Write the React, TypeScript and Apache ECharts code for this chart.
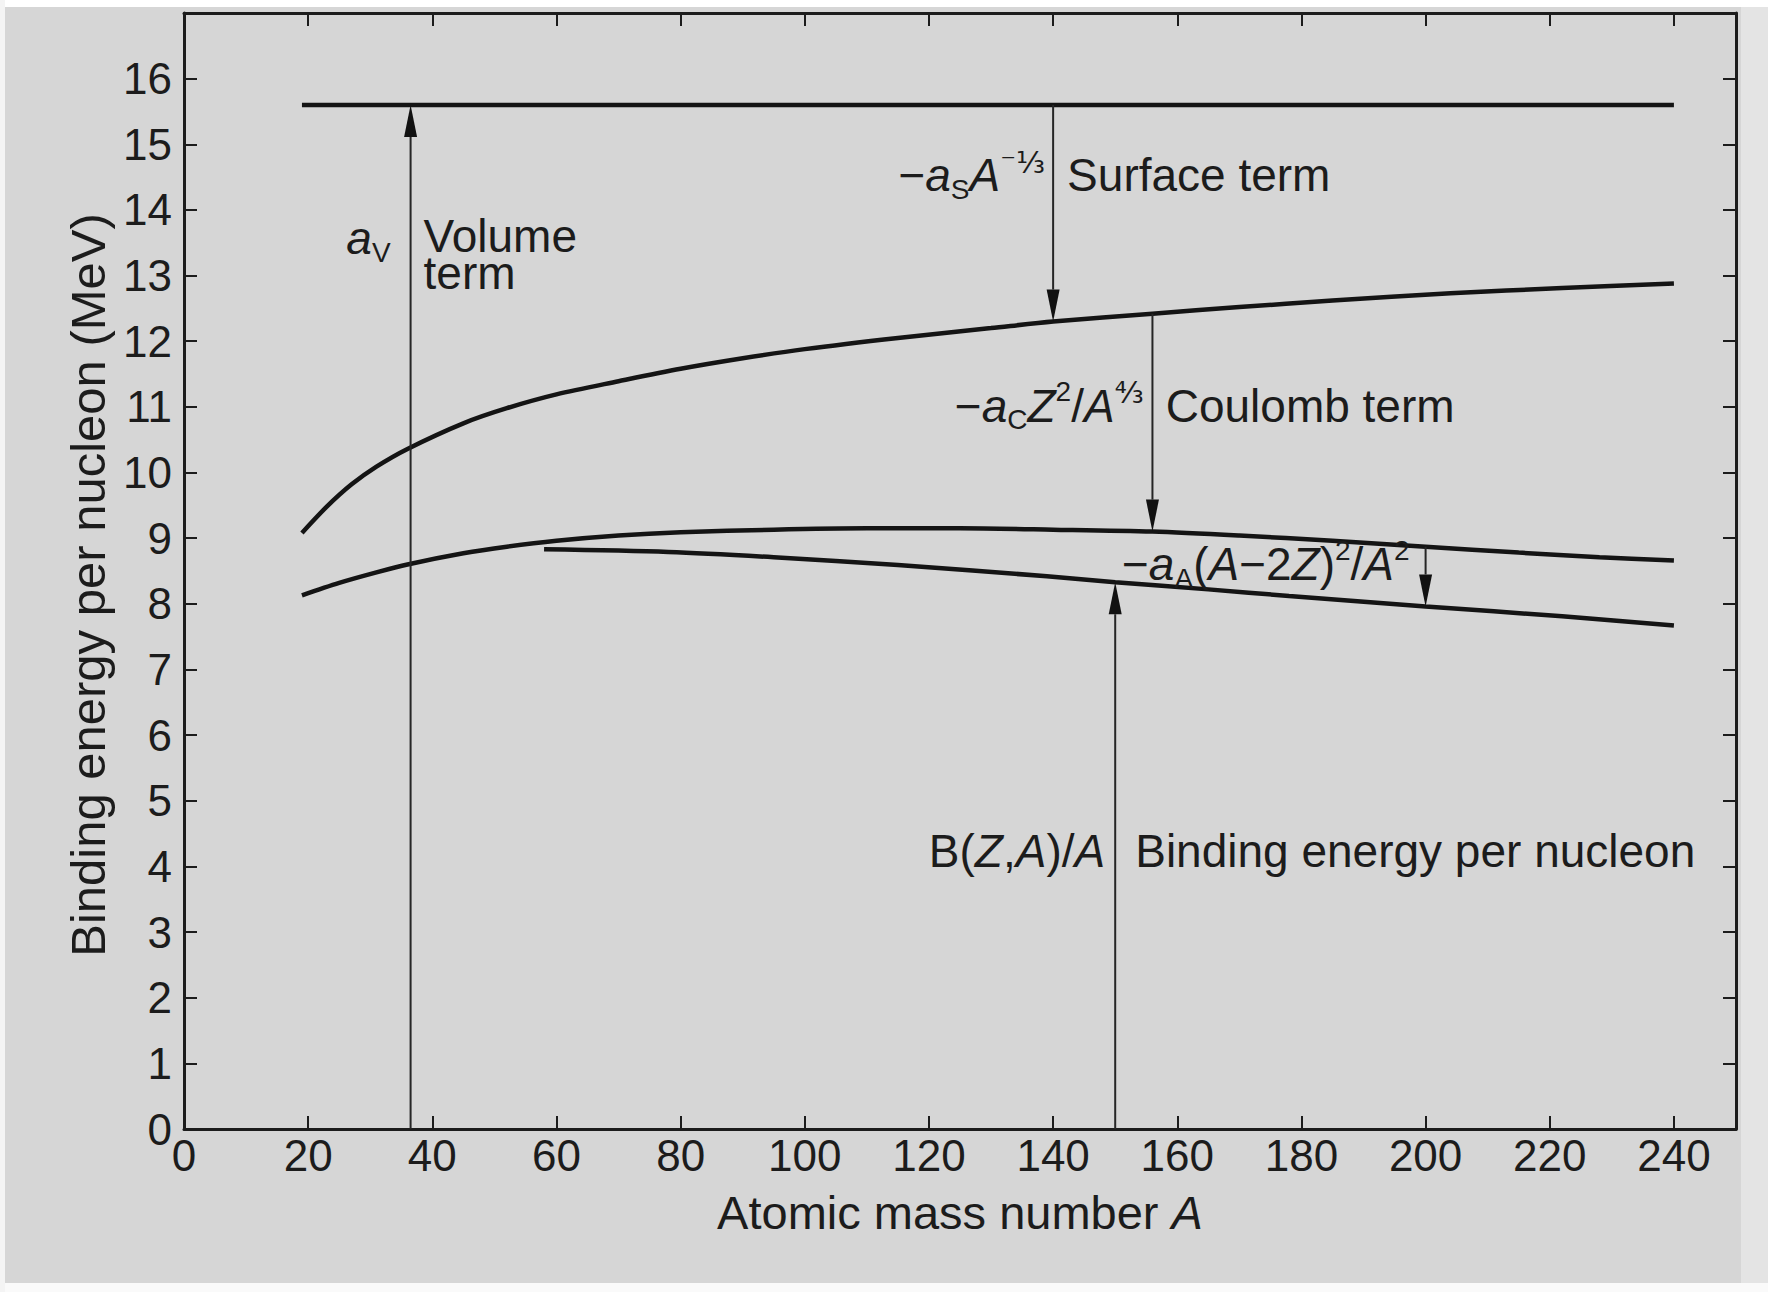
import React, { useEffect, useRef } from "react";
import * as echarts from "echarts";

// ---- tick labels ----
const xTicks = [0, 20, 40, 60, 80, 100, 120, 140, 160, 180, 200, 220, 240];
const yTicks = [0, 1, 2, 3, 4, 5, 6, 7, 8, 9, 10, 11, 12, 13, 14, 15, 16];

// ---- curves (A, MeV) ----
const volumeA = [19, 240];
const volumeE = [15.6, 15.6];

const surfaceA = [19, 23, 27, 31, 36, 45, 52, 60, 70, 80, 90, 100, 115, 130, 140, 156, 170, 185, 204, 222, 240];
const surfaceE = [9.08, 9.48, 9.82, 10.09, 10.36, 10.75, 10.98, 11.19, 11.39, 11.58, 11.74, 11.88, 12.05, 12.2, 12.3, 12.42, 12.52, 12.62, 12.73, 12.81, 12.88];

const coulombA = [19, 25, 31, 36, 45, 52, 60, 70, 80, 95, 110, 125, 140, 156, 170, 185, 200, 215, 228, 240];
const coulombE = [8.13, 8.32, 8.48, 8.6, 8.77, 8.87, 8.96, 9.04, 9.09, 9.13, 9.15, 9.15, 9.13, 9.1, 9.04, 8.96, 8.87, 8.78, 8.71, 8.66];

const totalA = [58, 78, 95, 115, 139, 150, 165, 178, 200, 222, 240];
const totalE = [8.83, 8.79, 8.71, 8.59, 8.42, 8.33, 8.22, 8.12, 7.96, 7.81, 7.67];

// ---- arrows: position A, start value, end value (head at end) ----
const arrowA = [36.5, 140, 156, 200, 150];
const arrowFrom = [0, 15.6, 12.42, 8.87, 0];
const arrowTo = [15.6, 12.3, 9.1, 7.96, 8.33];

const FONT = "'Liberation Sans', Arimo, Arial, Helvetica, sans-serif";
const FONT2 = "'DejaVu Sans', 'Liberation Sans', sans-serif";
const INK = "#1c1c1c";
const PAPER = "#d6d6d6";

export default function App() {
  const ref = useRef<HTMLDivElement>(null);

  useEffect(() => {
    const el = ref.current!;
    const chart = echarts.init(el, null, { renderer: "svg" });
    const axisLineStyle = { color: INK, width: 3 };
    const tickStyle = { color: INK, width: 2 };
    const curveStyle = { color: "#141414", width: 4.5 };
    const pairs = (xs: number[], ys: number[]) => xs.map((x, i) => [x, ys[i]]);
    const curve = (name: string, xs: number[], ys: number[]) => ({
      type: "line",
      name,
      data: pairs(xs, ys),
      smooth: 0.3,
      showSymbol: false,
      symbol: "none",
      lineStyle: curveStyle,
      silent: true,
      z: 3,
      xAxisIndex: 0,
      yAxisIndex: 0,
    });
    const boxAxisX = (pos: string) => ({
      type: "value",
      min: 0,
      max: 250,
      interval: 20,
      position: pos,
      axisLine: { show: true, onZero: false, lineStyle: axisLineStyle },
      axisTick: { show: true, inside: true, length: 13, lineStyle: tickStyle },
      splitLine: { show: false },
    });
    const boxAxisY = (pos: string) => ({
      type: "value",
      min: 0,
      max: 17,
      interval: 1,
      position: pos,
      axisLine: { show: true, onZero: false, lineStyle: axisLineStyle },
      axisTick: { show: true, inside: true, length: 13, lineStyle: tickStyle },
      splitLine: { show: false },
    });

    chart.setOption({
      animation: false,
      backgroundColor: PAPER,
      textStyle: { fontFamily: FONT, color: INK },
      grid: { left: 184, right: 32, top: 13, bottom: 163, containLabel: false },
      xAxis: [
        {
          ...boxAxisX("bottom"),
          name: "Atomic mass number {i|A}",
          nameLocation: "middle",
          nameGap: 83,
          nameTextStyle: {
            fontSize: 47,
            fontFamily: FONT,
            color: INK,
            verticalAlign: "middle",
            rich: { i: { fontSize: 47, fontFamily: FONT, fontStyle: "italic", color: INK } },
          },
          axisLabel: {
            fontSize: 44,
            fontFamily: FONT,
            color: INK,
            margin: 4,
            formatter: (v: number) => (xTicks.includes(v) ? String(v) : ""),
          },
        },
        { ...boxAxisX("top"), axisLabel: { show: false } },
      ],
      yAxis: [
        {
          ...boxAxisY("left"),
          name: "Binding energy per nucleon (MeV)",
          nameLocation: "middle",
          nameGap: 85,
          nameRotate: 90,
          nameTextStyle: {
            fontSize: 49,
            fontFamily: FONT,
            color: INK,
            align: "center",
            verticalAlign: "middle",
            padding: [0, 28, 0, 0],
          },
          axisLabel: {
            fontSize: 44,
            fontFamily: FONT,
            color: INK,
            margin: 12,
            formatter: (v: number) => (yTicks.includes(v) ? String(v) : ""),
          },
        },
        { ...boxAxisY("right"), axisLabel: { show: false } },
      ],
      series: [
        curve("Volume term", volumeA, volumeE),
        curve("After surface term", surfaceA, surfaceE),
        curve("After Coulomb term", coulombA, coulombE),
        curve("Binding energy per nucleon", totalA, totalE),
        {
          type: "custom",
          name: "arrows",
          xAxisIndex: 0,
          yAxisIndex: 0,
          silent: true,
          z: 4,
          encode: { x: 0, y: [1, 2] },
          data: arrowA.map((a, i) => [a, arrowFrom[i], arrowTo[i]]),
          renderItem: (params: any, api: any) => {
            const x = api.value(0);
            const p1 = api.coord([x, api.value(1)]);
            const p2 = api.coord([x, api.value(2)]);
            const dir = p2[1] > p1[1] ? 1 : -1;
            const headLen = 32;
            const headW = 6.5;
            const base = p2[1] - dir * headLen;
            return {
              type: "group",
              children: [
                {
                  type: "line",
                  shape: { x1: p1[0], y1: p1[1], x2: p2[0], y2: base },
                  style: { stroke: "#262626", lineWidth: 2 },
                },
                {
                  type: "polygon",
                  shape: { points: [[p2[0], p2[1]], [p2[0] - headW, base], [p2[0] + headW, base]] },
                  style: { fill: "#111111" },
                },
              ],
            };
          },
        },
      ],
    });

    const P = (a: number, v: number) => chart.convertToPixel({ seriesIndex: 0 }, [a, v]) as number[];
    const rich = {
      n: { fontSize: 46, fontFamily: FONT, fill: INK, lineHeight: 56 },
      m: { fontSize: 46, fontFamily: FONT, fill: INK, lineHeight: 37 },
      i: { fontSize: 46, fontFamily: FONT, fontStyle: "italic", fill: INK, lineHeight: 56 },
      sub: { fontSize: 28, fontFamily: FONT, fill: INK, verticalAlign: "bottom", lineHeight: 30 },
      sup: { fontSize: 28, fontFamily: FONT, fill: INK, verticalAlign: "top", lineHeight: 30 },
      fr: { fontSize: 30, fontFamily: FONT2, fill: INK, verticalAlign: "top", lineHeight: 32 },
    };
    const labels: { at: [number, number]; dx: number; align: string; text: string }[] = [
      { at: [36.5, 13.57], dx: -20, align: "right", text: "{i|a}{sub|V}" },
      { at: [36.5, 13.32], dx: 13, align: "left", text: "{m|Volume}\n{m|term}" },
      { at: [140, 14.53], dx: -8, align: "right", text: "{n|−}{i|a}{sub|S}{i|A}{fr|⁻¹⁄₃}" },
      { at: [140, 14.53], dx: 14, align: "left", text: "{n|Surface term}" },
      { at: [156.2, 11.02], dx: -10, align: "right", text: "{n|−}{i|a}{sub|C}{i|Z}{sup|2}{n|/}{i|A}{fr|⁴⁄₃}" },
      { at: [156.2, 11.02], dx: 12, align: "left", text: "{n|Coulomb term}" },
      { at: [200, 8.6], dx: -16, align: "right", text: "{n|−}{i|a}{sub|A}{n|(}{i|A}{n|−2}{i|Z}{n|)}{sup|2}{n|/}{i|A}{sup|2}" },
      { at: [150, 4.24], dx: -10, align: "right", text: "{n|B(}{i|Z}{n|,}{i|A}{n|)/}{i|A}" },
      { at: [150, 4.24], dx: 20, align: "left", text: "{n|Binding energy per nucleon}" },
    ];

    chart.setOption({
      graphic: [
        { type: "rect", silent: true, z: 0, shape: { x: 0, y: 0, width: 1768, height: 7 }, style: { fill: "#ffffff" } },
        { type: "rect", silent: true, z: 0, shape: { x: 0, y: 1283, width: 1768, height: 9 }, style: { fill: "#fafafa" } },
        { type: "rect", silent: true, z: 0, shape: { x: 0, y: 0, width: 5, height: 1292 }, style: { fill: "#f4f4f4" } },
        { type: "rect", silent: true, z: 0, shape: { x: 1741, y: 7, width: 27, height: 1276 }, style: { fill: "#e4e4e4" } },
        ...labels.map((l) => {
          const p = P(l.at[0], l.at[1]);
          return {
            type: "text",
            z: 50,
            silent: true,
            x: p[0] + l.dx,
            y: p[1],
            style: {
              text: l.text,
              rich,
              fill: INK,
              fontSize: 46,
              fontFamily: FONT,
              align: l.align,
              verticalAlign: "middle",
            },
          };
        }),
      ],
    });

    return () => chart.dispose();
  }, []);

  return (
    <div
      ref={ref}
      style={{ position: "absolute", left: 0, top: 0, width: 1768, height: 1292 }}
    />
  );
}
